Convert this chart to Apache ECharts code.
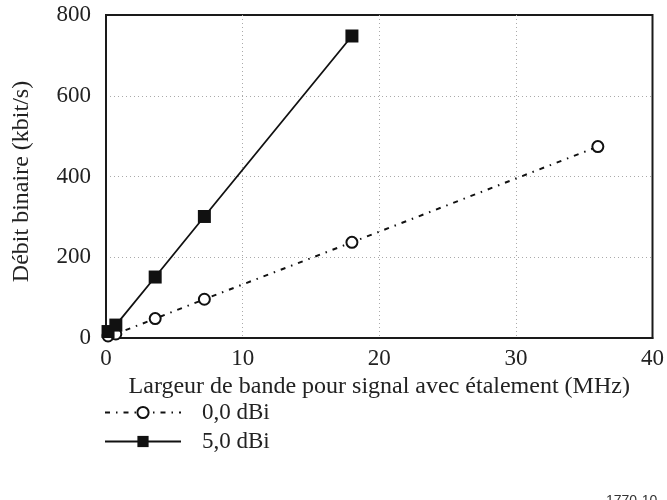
<!DOCTYPE html>
<html>
<head>
<meta charset="utf-8">
<script src="https://cdn.jsdelivr.net/npm/echarts@6/dist/echarts.min.js"></script>
<style>html,body{margin:0;padding:0;background:#fff}#c{width:667px;height:500px}</style>
</head>
<body>
<div id="c"></div>
<script>
const seriesNames = ['0,0 dBi', '5,0 dBi'];
const bw0 = [0.15, 0.72, 3.6, 7.2, 18, 36];
const rate0 = [5, 10, 48, 96, 237, 474];
const bw5 = [0.15, 0.72, 3.6, 7.2, 18];
const rate5 = [16, 32, 151, 301, 748];
const xTicks = [0, 10, 20, 30, 40];
const yTicks = [0, 200, 400, 600, 800];

const font = 'Liberation Serif';
const chart = echarts.init(document.getElementById('c'), null, {renderer: 'canvas'});
const gridLine = {show: true, showMinLine: false, showMaxLine: false, lineStyle: {color: '#aaa', type: [1, 3], width: 1}};
chart.setOption({
  animation: false,
  backgroundColor: '#fff',
  grid: {left: 106, right: 14, top: 15, bottom: 162, show: true, borderColor: '#1a1a1a', borderWidth: 2},
  xAxis: {
    type: 'value', min: xTicks[0], max: xTicks[xTicks.length - 1], interval: 10,
    name: 'Largeur de bande pour signal avec étalement (MHz)',
    nameLocation: 'middle', nameGap: 31,
    nameTextStyle: {fontFamily: font, fontSize: 24, color: '#222'},
    axisLine: {lineStyle: {color: '#1a1a1a', width: 2}},
    axisTick: {show: false},
    axisLabel: {fontFamily: font, fontSize: 23, color: '#222', margin: 9},
    splitLine: gridLine
  },
  yAxis: {
    type: 'value', min: yTicks[0], max: yTicks[yTicks.length - 1], interval: 200,
    name: 'Débit binaire (kbit/s)',
    nameLocation: 'middle', nameGap: 72,
    nameTextStyle: {fontFamily: font, fontSize: 24, color: '#222', padding: [0, 10, 0, 0]},
    axisLine: {lineStyle: {color: '#1a1a1a', width: 2}},
    axisTick: {show: false},
    axisLabel: {fontFamily: font, fontSize: 23, color: '#222', margin: 15},
    splitLine: gridLine
  },
  legend: {
    orient: 'vertical', left: 104, top: 401, itemGap: 6, padding: 0,
    itemWidth: 76, itemHeight: 14,
    textStyle: {fontFamily: font, fontSize: 23, color: '#222', padding: [0, 0, 0, 16], lineHeight: 23},
    data: seriesNames
  },
  series: [
    {
      name: seriesNames[0], type: 'line',
      data: bw0.map((x, i) => [x, rate0[i]]),
      symbol: 'emptyCircle', symbolSize: 11,
      lineStyle: {color: '#111', width: 2, type: [5, 6, 1.5, 6]},
      itemStyle: {color: '#111', borderColor: '#111', borderWidth: 2},
      z: 2
    },
    {
      name: seriesNames[1], type: 'line',
      data: bw5.map((x, i) => [x, rate5[i]]),
      symbol: 'rect', symbolSize: 13,
      lineStyle: {color: '#111', width: 1.8},
      itemStyle: {color: '#111'},
      z: 3
    }
  ],
  graphic: [{
    type: 'text', left: 606, top: 494,
    style: {text: '1770-10', fontFamily: 'Liberation Sans', fontSize: 14, fill: '#333'}
  }]
});
</script>
</body>
</html>
